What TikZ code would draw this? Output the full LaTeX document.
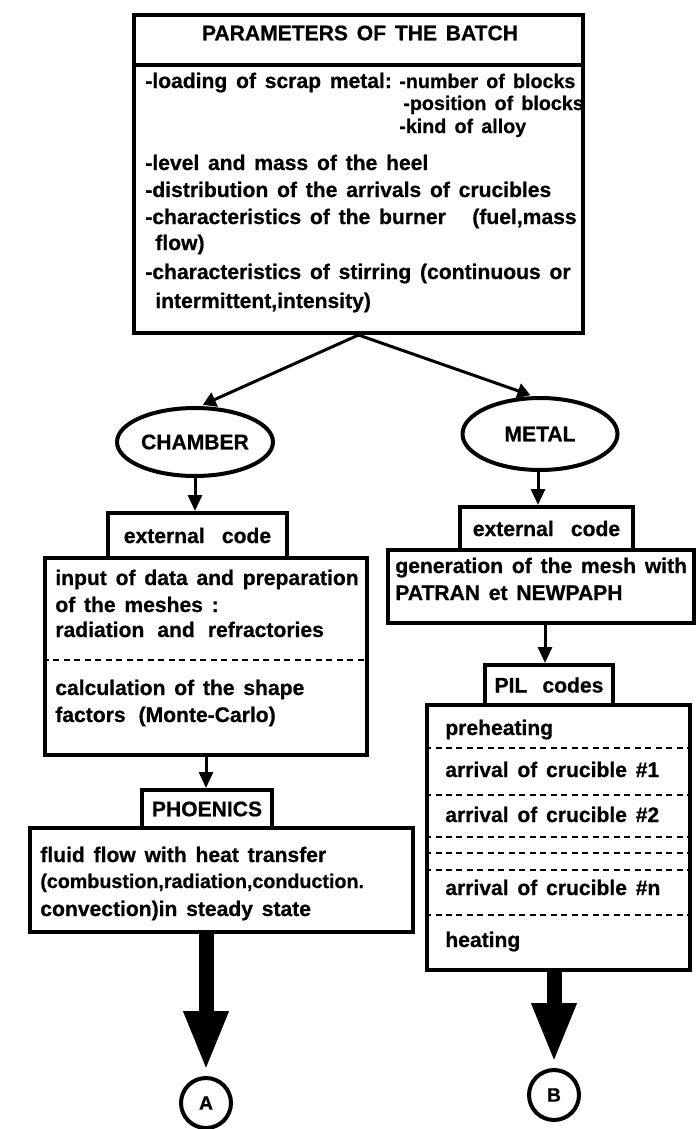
\documentclass[tikz,border=0pt]{standalone}
\usepackage{fontspec}
\setmainfont{Liberation Sans}[WordSpace=1.5, BoldFeatures={FakeBold=0.7}]
\usetikzlibrary{arrows.meta,fit,shapes.geometric}

\begin{document}
\begin{tikzpicture}[x=0.02cm,y=-0.02cm,
  box/.style={draw, line width=0.08cm, inner sep=0pt},
  txt/.style={anchor=base west, inner sep=0pt, font=\fontsize{12}{14}\selectfont\bfseries},
  smalltxt/.style={txt, font=\fontsize{11.2}{14}\selectfont\bfseries},
  ctxt/.style={inner sep=0pt, font=\fontsize{12}{14}\selectfont\bfseries},
  divider/.style={line width=0.04cm, dash pattern=on 0.12cm off 0.09cm},
  arr/.style={line width=0.06cm, -{Triangle[width=0.28cm,length=0.32cm]}},
  diagarr/.style={line width=0.06cm, shorten >=0.06cm, -{Triangle[width=0.3cm,length=0.26cm]}},
  bigarr/.style={line width=0.3cm, shorten >=0.1cm, -{Triangle[width=0.82cm,length=1.2cm]}},
  oval/.style={draw, ellipse, line width=0.08cm, inner sep=0pt,
    font=\fontsize{12}{14}\selectfont\bfseries},
  endmark/.style={draw, circle, line width=0.08cm, inner sep=0pt,
    minimum size=1.0cm, font=\fontsize{11}{13}\selectfont\bfseries}
]
\fill[white] (0,0) rectangle (699,1129);
\useasboundingbox (0,0) rectangle (699,1129);

% ---------- parameters of the batch ----------
\node[box, fit={(134,15) (583,65)}] (hdr) {};
\node[box, fit={(134,65) (583,333)}] (params) {};
\node[ctxt] (hdrtxt) at (360,33) {PARAMETERS OF THE BATCH};
\node[txt] (p1) at (145,88) {-loading of scrap metal:};
\node[smalltxt] (p1a) at (399,88) {-number of blocks};
\node[smalltxt] (p1b) at (403,110) {-position of blocks};
\node[smalltxt] (p1c) at (399,133) {-kind of alloy};
\node[txt] (p2) at (145,170) {-level and mass of the heel};
\node[txt] (p3) at (145,197) {-distribution of the arrivals of crucibles};
\node[txt] (p4) at (145,224) {-characteristics of the burner};
\node[txt] (p4a) at (472,224) {(fuel,mass};
\node[txt] (p4b) at (155,250) {flow)};
\node[txt] (p5) at (145,279) {-characteristics of stirring (continuous or};
\node[txt] (p5a) at (155,308) {intermittent,intensity)};

% ---------- the two branches ----------
\node[oval, minimum width=3.12cm, minimum height=1.36cm] (chamber) at (195,442) {CHAMBER};
\node[oval, minimum width=3.1cm, minimum height=1.44cm] (metal) at (540,434) {METAL};
\draw[diagarr] (params.south) -- (chamber.82);
\draw[diagarr] (params.south) -- (metal.100);

% ---------- chamber branch ----------
\node[box, fit={(108,513) (287,558)}] (ext1) {};
\node[ctxt] (ext1txt) at (ext1.center) {external\hspace{0.4em} code};
\node[box, fit={(45,558) (367,755)}] (cbox) {};
\node[txt] (c1) at (55,585) {input of data and preparation};
\node[txt] (c2) at (55,612) {of the meshes :};
\node[txt] (c3) at (55,637) {radiation\hspace{0.2em} and\hspace{0.2em} refractories};
\draw[divider] (cbox.west |- 0,660) -- (cbox.east |- 0,660);
\node[txt] (c4) at (55,695) {calculation of the shape};
\node[txt] (c5) at (55,722) {factors\hspace{0.2em} (Monte-Carlo)};
\draw[arr] (chamber.south) -- (chamber.south |- ext1.north);

\node[box, fit={(142,790) (272,828)}] (phx) {};
\node[ctxt] (phxtxt) at (phx.center) {PHOENICS};
\node[box, fit={(30,828) (413,932)}] (fluid) {};
\node[txt] (f1) at (40,862) {fluid flow with heat transfer};
\node[smalltxt] (f2) at (40,888) {(combustion,radiation,conduction.};
\node[txt] (f3) at (40,916) {convection)in steady state};
\draw[arr] (cbox.south) -- (cbox.south |- phx.north);

\node[endmark] (ca) at (206,1103) {A};
\draw[bigarr] (fluid.south -| ca.north) -- (ca.north);

% ---------- metal branch ----------
\node[box, fit={(460,507) (633,550)}] (ext2) {};
\node[ctxt] (ext2txt) at (ext2.center) {external\hspace{0.4em} code};
\node[box, fit={(388,550) (694,623)}] (mesh) {};
\node[txt] (m1) at (395,573) {generation of the mesh with};
\node[txt] (m2) at (395,600) {PATRAN et NEWPAPH};
\draw[arr] (metal.south -| 538,0) -- (ext2.north -| 538,0);

\node[box, fit={(485,665) (613,705)}] (pil) {};
\node[ctxt] (piltxt) at (pil.center) {PIL\hspace{0.3em} codes};
\node[box, fit={(427,705) (690,970)}] (pbox) {};
\draw[arr] (mesh.south -| 545,0) -- (pil.north -| 545,0);
\node[txt] (s1) at (445,735) {preheating};
\draw[divider] (pbox.west |- 0,748) -- (pbox.east |- 0,748);
\node[txt] (s2) at (445,777) {arrival of crucible \#1};
\draw[divider] (pbox.west |- 0,795) -- (pbox.east |- 0,795);
\node[txt] (s3) at (445,822) {arrival of crucible \#2};
\draw[divider] (pbox.west |- 0,837) -- (pbox.east |- 0,837);
\draw[divider] (pbox.west |- 0,853) -- (pbox.east |- 0,853);
\draw[divider] (pbox.west |- 0,870) -- (pbox.east |- 0,870);
\node[txt] (s4) at (445,895) {arrival of crucible \#n};
\draw[divider] (pbox.west |- 0,915) -- (pbox.east |- 0,915);
\node[txt] (s5) at (445,947) {heating};

\node[endmark] (cb) at (554,1095) {B};
\draw[bigarr] (pbox.south -| cb.north) -- (cb.north);
\end{tikzpicture}
\end{document}
